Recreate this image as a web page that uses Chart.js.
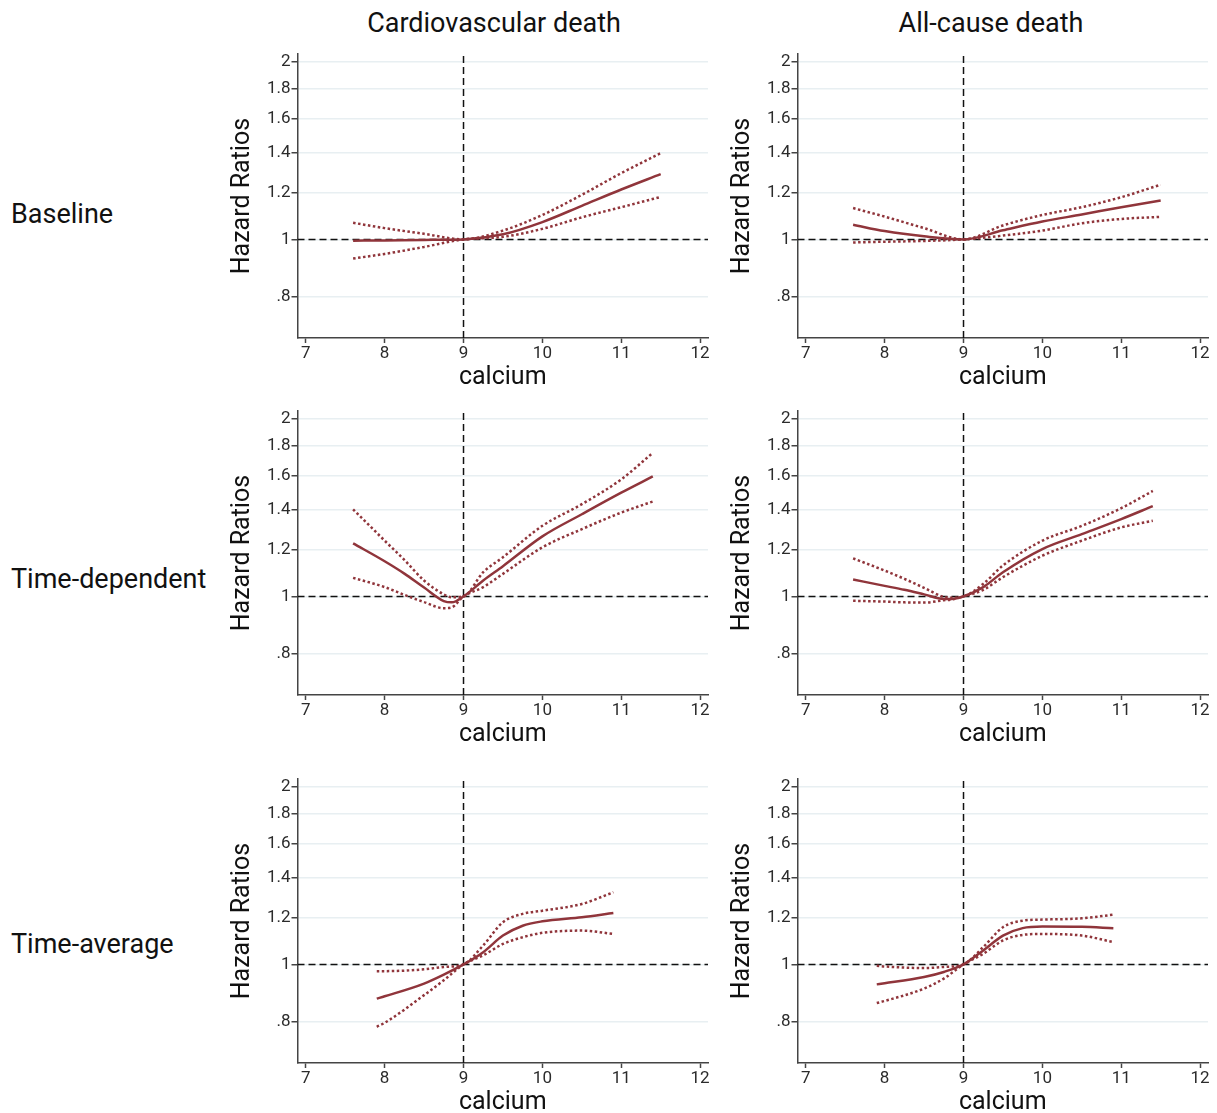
<!DOCTYPE html>
<html>
<head>
<meta charset="utf-8">
<script src="https://cdn.jsdelivr.net/npm/chart.js@4.4.0/dist/chart.umd.min.js"></script>
<style>
body{margin:0;background:#fff;width:1217px;height:1113px;overflow:hidden;position:relative;font-family:Roboto,sans-serif;color:#111}
.lbl{position:absolute;white-space:nowrap;font-size:27px;line-height:27px}
.ttl{transform:translateX(-50%)}
canvas{position:absolute}
</style>
</head>
<body>
<script>
// labels
const rowLabels = ['Baseline', 'Time-dependent', 'Time-average'];
const colTitles = ['Cardiovascular death', 'All-cause death'];
const xTicks = [7, 8, 9, 10, 11, 12];
const xTickLabels = ['7', '8', '9', '10', '11', '12'];
const yTicks = [0.8, 1, 1.2, 1.4, 1.6, 1.8, 2];
const yTickLabels = ['.8', '1', '1.2', '1.4', '1.6', '1.8', '2'];

// Baseline
const baseX = [7.6, 8, 8.5, 9, 9.5, 10, 10.5, 11, 11.5];
const baseCvHR = [0.995, 0.996, 0.998, 1.0, 1.02, 1.07, 1.14, 1.215, 1.29];
const baseCvHi = [1.067, 1.045, 1.022, 1.0, 1.035, 1.10, 1.19, 1.295, 1.40];
const baseCvLo = [0.928, 0.945, 0.971, 1.0, 1.01, 1.042, 1.09, 1.134, 1.18];
const baseAllHR = [1.059, 1.033, 1.012, 1.0, 1.036, 1.072, 1.102, 1.134, 1.164];
const baseAllHi = [1.13, 1.093, 1.045, 1.0, 1.056, 1.10, 1.134, 1.179, 1.238];
const baseAllLo = [0.988, 0.991, 0.994, 1.0, 1.015, 1.035, 1.065, 1.083, 1.092];

// Time-dependent
const tdX = [7.6, 8, 8.25, 8.5, 8.75, 8.85, 9, 9.25, 9.5, 10, 10.5, 11, 11.4];
const tdCvHR = [1.23, 1.147, 1.093, 1.035, 0.982, 0.977, 1.0, 1.064, 1.125, 1.264, 1.378, 1.499, 1.597];
const tdCvHi = [1.405, 1.243, 1.153, 1.064, 1.008, 0.997, 1.0, 1.099, 1.165, 1.317, 1.433, 1.579, 1.751];
const tdCvLo = [1.075, 1.037, 1.006, 0.978, 0.955, 0.958, 1.0, 1.037, 1.092, 1.211, 1.30, 1.387, 1.448];
const tdAllHR = [1.068, 1.042, 1.026, 1.008, 0.99, 0.99, 1.0, 1.037, 1.099, 1.203, 1.275, 1.352, 1.422];
const tdAllHi = [1.16, 1.106, 1.071, 1.034, 0.998, 0.995, 1.0, 1.05, 1.128, 1.243, 1.317, 1.411, 1.509];
const tdAllLo = [0.983, 0.98, 0.977, 0.976, 0.985, 0.988, 1.0, 1.026, 1.078, 1.172, 1.243, 1.309, 1.343];

// Time-average
const taX = [7.9, 8, 8.5, 8.75, 9, 9.25, 9.5, 9.75, 10, 10.5, 10.9];
const taCvHR = [0.875, 0.883, 0.928, 0.961, 1.0, 1.049, 1.119, 1.163, 1.183, 1.202, 1.222];
const taCvHi = [0.974, 0.974, 0.981, 0.99, 1.0, 1.077, 1.179, 1.218, 1.233, 1.266, 1.325];
const taCvLo = [0.784, 0.796, 0.887, 0.94, 1.0, 1.036, 1.083, 1.112, 1.131, 1.141, 1.126];
const taAllHR = [0.925, 0.929, 0.952, 0.971, 1.0, 1.056, 1.119, 1.152, 1.159, 1.158, 1.152];
const taAllHi = [0.995, 0.992, 0.986, 0.99, 1.0, 1.07, 1.156, 1.186, 1.191, 1.197, 1.214];
const taAllLo = [0.86, 0.867, 0.91, 0.946, 1.0, 1.042, 1.098, 1.122, 1.126, 1.119, 1.091];

const xMin = 6.895, xMax = 12.1;
const yMin = 0.6806, yMax = 2.06;
const refX = 9, refY = 1;
const red = '#90353b';

const panels = [
  {row: 0, col: 0, x: baseX, hr: baseCvHR, hi: baseCvHi, lo: baseCvLo},
  {row: 0, col: 1, x: baseX, hr: baseAllHR, hi: baseAllHi, lo: baseAllLo},
  {row: 1, col: 0, x: tdX, hr: tdCvHR, hi: tdCvHi, lo: tdCvLo},
  {row: 1, col: 1, x: tdX, hr: tdAllHR, hi: tdAllHi, lo: tdAllLo},
  {row: 2, col: 0, x: taX, hr: taCvHR, hi: taCvHi, lo: taCvLo},
  {row: 2, col: 1, x: taX, hr: taAllHR, hi: taAllHi, lo: taAllLo}
];

const rowTops = [53, 410, 778];
const colLefts = [215, 715];
const rowLabelTops = [201, 566, 931];
const colCenters = [494, 991];

Chart.defaults.font.family = 'Roboto';

rowLabels.forEach((t, i) => {
  const d = document.createElement('div');
  d.className = 'lbl';
  d.textContent = t;
  d.style.left = '11px';
  d.style.top = rowLabelTops[i] + 'px';
  document.body.appendChild(d);
});
colTitles.forEach((t, i) => {
  const d = document.createElement('div');
  d.className = 'lbl ttl';
  d.textContent = t;
  d.style.left = colCenters[i] + 'px';
  d.style.top = '10px';
  document.body.appendChild(d);
});

function makeChart(p) {
  const cv = document.createElement('canvas');
  cv.width = 500;
  cv.height = 341;
  cv.style.left = colLefts[p.col] + 'px';
  cv.style.top = (rowTops[p.row] - 10) + 'px';
  document.body.appendChild(cv);
  const pts = ys => p.x.map((x, i) => ({x: x, y: ys[i]}));
  const curve = {pointRadius: 0, fill: false, cubicInterpolationMode: 'monotone', borderColor: red, borderWidth: 2.5};
  const ref = {pointRadius: 0, fill: false, borderColor: '#111', borderWidth: 1.5, borderDash: [7, 4]};
  new Chart(cv, {
    type: 'line',
    data: {
      datasets: [
        Object.assign({data: pts(p.hr)}, curve),
        Object.assign({data: pts(p.hi), borderDash: [2.5, 2.5]}, curve),
        Object.assign({data: pts(p.lo), borderDash: [2.5, 2.5]}, curve),
        Object.assign({data: [{x: xMin, y: refY}, {x: xMax, y: refY}]}, ref),
        Object.assign({data: [{x: refX, y: yMin}, {x: refX, y: yMax}]}, ref)
      ]
    },
    options: {
      responsive: false,
      animation: false,
      devicePixelRatio: 1,
      layout: {padding: {top: 10, right: 7, left: 0, bottom: 0}},
      plugins: {legend: {display: false}, tooltip: {enabled: false}},
      scales: {
        x: {
          type: 'linear', min: xMin, max: xMax,
          afterBuildTicks: s => { s.ticks = xTicks.map(v => ({value: v})); },
          afterFit: s => { s.height = 46; },
          ticks: {font: {size: 17}, color: '#2b2b2b', padding: 1, maxRotation: 0, autoSkip: false,
                  callback: (v, i) => xTickLabels[i]},
          grid: {drawOnChartArea: false, tickLength: 5, tickColor: '#444', tickWidth: 1.5},
          border: {color: '#444', width: 1.5},
          title: {display: true, text: 'calcium', font: {size: 25}, color: '#111', padding: {top: 0, bottom: -9}}
        },
        y: {
          type: 'logarithmic', min: yMin, max: yMax,
          afterBuildTicks: s => { s.ticks = yTicks.map(v => ({value: v})); },
          afterFit: s => { s.width = 82.5; },
          ticks: {font: {size: 17}, color: '#2b2b2b', padding: 1, autoSkip: false,
                  callback: (v, i) => yTickLabels[i]},
          grid: {color: '#e8eff2', lineWidth: 1.5, tickLength: 6, tickColor: '#444', tickWidth: 1.5},
          border: {color: '#444', width: 1.5},
          title: {display: true, text: 'Hazard Ratios', font: {size: 25}, color: '#111', padding: {top: 13, bottom: 0}}
        }
      }
    }
  });
}

panels.forEach(makeChart);
</script>
</body>
</html>
